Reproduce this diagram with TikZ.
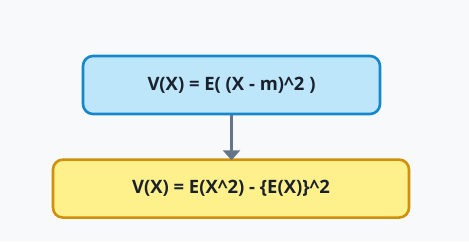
\documentclass[tikz,border=0pt]{standalone}
\usepackage{fontspec}
\setmainfont{Open Sans}
\usetikzlibrary{arrows.meta,positioning}
\definecolor{bgpage}{HTML}{F8F9FB}
\definecolor{defFill}{HTML}{BEE6FB}
\definecolor{defLine}{HTML}{1488C8}
\definecolor{resFill}{HTML}{FEF08A}
\definecolor{resLine}{HTML}{D0900C}
\definecolor{arrowGray}{HTML}{667487}
\definecolor{txtDark}{HTML}{1A202C}
\tikzset{>=Stealth}

\begin{document}
\begin{tikzpicture}[
    x=1bp, y=-1bp,
    formula/.style={draw, line width=2.6bp, rounded corners=10bp, minimum height=58bp, text=txtDark, font=\fontsize{18.5}{22}\selectfont\bfseries},
    definition/.style={formula, fill=defFill, draw=defLine, minimum width=297bp},
    result/.style={formula, fill=resFill, draw=resLine, minimum width=356bp},
    node distance=43bp, >=Stealth
  ]
    \fill[bgpage] (0,0) rectangle (469,241);
    \useasboundingbox (0,0) rectangle (469,241);
    \node[definition] (def) at (231.5,85) {V(X) = E( (X - m)\^{}2 )};
    \node[result, below=of def.south, anchor=north, xshift=-0.5bp] (res) {V(X) = E(X\^{}2) - \{E(X)\}\^{}2};
    \draw[arrowGray, line width=2.6bp, shorten >=-2bp, -{Triangle[length=10bp, width=17bp]}] (def.south) -- (def.south |- res.north);
  \end{tikzpicture}
\end{document}
